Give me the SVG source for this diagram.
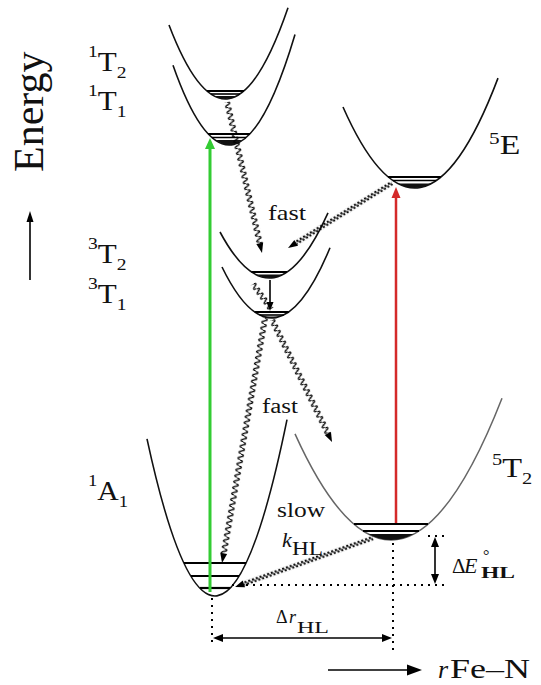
<svg xmlns="http://www.w3.org/2000/svg" width="541" height="685" viewBox="0 0 541 685">
<style>
 .curve{fill:none;stroke:#111;stroke-width:1.6}
 .curve5{fill:none;stroke:#666;stroke-width:1.5}
 .lvl{stroke:#000;stroke-width:1.6}
 .lvlb{stroke:#000;stroke-width:2.2}
 .lens{fill:#111}
 text{font-family:"Liberation Serif","Times New Roman",serif;fill:#111}
 .st{font-size:27px}
 .ss{font-size:17px}
 .it{font-style:italic}
 .dot{fill:none;stroke:#000;stroke-width:2;stroke-dasharray:2 5}
 .ah{fill:#000}
 .ln{stroke:#000;stroke-width:1.6;fill:none}
</style>
<defs>
 <pattern id="wave" x="0" y="-4" width="6" height="8" patternUnits="userSpaceOnUse">
  <path d="M0,4 Q1.5,-1 3,4 T6,4" fill="none" stroke="#000" stroke-width="1.3"/>
 </pattern>
 <pattern id="wavef" x="0" y="-3" width="4" height="6" patternUnits="userSpaceOnUse">
  <path d="M0,3 Q1,-0.6 2,3 T4,3" fill="none" stroke="#000" stroke-width="1.2"/>
 </pattern>
</defs>
<rect width="541" height="685" fill="#fff"/>

<g id="axis-energy">
 <text transform="translate(43,172) rotate(-90)" font-size="42">Energy</text>
 <line class="ln" x1="30" y1="280" x2="30" y2="220" stroke-width="1.5"/>
 <path class="ah" d="M30,211 L26.5,222 L33.5,222Z"/>
</g>

<g id="n-1T2">
 <path class="curve" d="M169,25 Q228.5,181.1 288,7.8"/>
 <line class="lvlb" x1="207" y1="91" x2="244" y2="91"/>
 <line class="lvl" x1="211" y1="94" x2="240" y2="94"/>
 <path class="lens" d="M214,96 Q225.4,102 236.8,96Z"/>
 <text class="st" transform="translate(88,71) scale(1.15,1)"><tspan class="ss" y="-14">1</tspan><tspan y="0">T</tspan><tspan class="ss" y="7">2</tspan></text>
</g>

<g id="n-1T1">
 <path class="curve" d="M173,65.3 Q234,238.9 295,34.4"/>
 <line class="lvlb" x1="208" y1="134" x2="250" y2="134"/>
 <line class="lvl" x1="212" y1="137.5" x2="246" y2="137.5"/>
 <path class="lens" d="M216,140 Q229,150 242,140Z"/>
 <text class="st" transform="translate(88,110) scale(1.15,1)"><tspan class="ss" y="-14">1</tspan><tspan y="0">T</tspan><tspan class="ss" y="7">1</tspan></text>
</g>

<g id="n-5E">
 <path class="curve" d="M343,107 Q420.5,282.3 498,78.1"/>
 <line class="lvlb" x1="388" y1="177" x2="441" y2="177"/>
 <line class="lvl" x1="393" y1="180.5" x2="436" y2="180.5"/>
 <path class="lens" d="M397.7,183.5 Q414.6,192.5 431.5,183.5Z"/>
 <text class="st" transform="translate(489,154) scale(1.25,1)"><tspan class="ss" y="-10">5</tspan><tspan y="0">E</tspan></text>
</g>

<g id="n-3T2">
 <path class="curve" d="M220,232 Q274,332.8 328,212.8"/>
 <line class="lvlb" x1="251.5" y1="272" x2="287" y2="272"/>
 <path class="lens" d="M255.7,274.5 Q269.3,281.5 282.9,274.5Z"/>
 <text class="st" transform="translate(88,263) scale(1.15,1)"><tspan class="ss" y="-14">3</tspan><tspan y="0">T</tspan><tspan class="ss" y="7">2</tspan></text>
</g>

<g id="n-3T1">
 <path class="curve" d="M222,267 Q276,377.8 330,247.8"/>
 <line class="lvlb" x1="254.7" y1="312" x2="288.7" y2="312"/>
 <line class="lvl" x1="259.6" y1="315" x2="283.8" y2="315"/>
 <path class="lens" d="M263.2,316.5 Q271.7,319.5 280.2,316.5Z"/>
 <text class="st" transform="translate(88,303) scale(1.15,1)"><tspan class="ss" y="-14">3</tspan><tspan y="0">T</tspan><tspan class="ss" y="7">1</tspan></text>
</g>

<g id="n-1A1">
 <path class="curve" d="M147,438.8 Q217,762.5 287,419.7"/>
 <line class="lvlb" x1="184" y1="563" x2="246" y2="563"/>
 <line class="lvlb" x1="191" y1="576" x2="239" y2="576"/>
 <line class="lvlb" x1="200" y1="588" x2="230" y2="588"/>
 <text class="st" transform="translate(88,500) scale(1.1,1)"><tspan class="ss" y="-14">1</tspan><tspan y="0">A</tspan><tspan class="ss" y="7">1</tspan></text>
</g>

<g id="n-5T2">
 <path class="curve5" d="M295,433.9 Q398.5,662.7 502,398.2"/>
 <line class="lvlb" x1="354" y1="524" x2="428" y2="524" stroke-width="2.5"/>
 <line class="lvlb" x1="363" y1="531" x2="419" y2="531"/>
 <path class="lens" d="M368.2,534 Q391,546 413.8,534Z" fill="#333"/>
 <text class="st" transform="translate(492,477) scale(1.2,1)"><tspan class="ss" y="-12">5</tspan><tspan y="0">T</tspan><tspan class="ss" y="7">2</tspan></text>
</g>

<g id="connectors">
 <line x1="210" y1="592" x2="210" y2="147" stroke="#33cc33" stroke-width="3"/>
 <path d="M210,138 L205,149 L215,149Z" fill="#33cc33"/>
 <line x1="396" y1="523" x2="396" y2="196" stroke="#d42a2a" stroke-width="2.5"/>
 <path d="M396,187 L391.5,198 L400.5,198Z" fill="#d42a2a"/>

 <g transform="translate(227,102) rotate(76.95)">
  <rect x="0" y="-4" width="146" height="8" fill="url(#wave)"/>
  <path class="ah" d="M155,0 L145,-3.5 L145,3.5Z"/>
 </g>
 <g transform="translate(392,183) rotate(147.99)">
  <rect x="0" y="-3" width="113" height="6" fill="url(#wavef)"/>
  <path class="ah" d="M122.6,0 L113,-3.5 L113,3.5Z"/>
 </g>
 <g transform="translate(253,284) rotate(54.25)">
  <rect x="0" y="-4" width="31" height="8" fill="url(#wave)"/>
 </g>
 <line class="ln" x1="270" y1="280" x2="270" y2="303"/>
 <path class="ah" d="M270,311 L266.5,302 L273.5,302Z"/>
 <g transform="translate(265,318) rotate(99.95)">
  <rect x="0" y="-4" width="239" height="8" fill="url(#wave)"/>
  <path class="ah" d="M248.7,0 L239,-3.5 L239,3.5Z"/>
 </g>
 <g transform="translate(272,320) rotate(63.81)">
  <rect x="0" y="-4" width="127" height="8" fill="url(#wave)"/>
  <path class="ah" d="M136,0 L126.5,-3.5 L126.5,3.5Z"/>
 </g>
 <g transform="translate(373,538) rotate(160.45)">
  <rect x="0" y="-3" width="137" height="6" fill="url(#wavef)"/>
  <path class="ah" d="M146.4,0 L137,-3.5 L137,3.5Z"/>
 </g>

 <text x="268" y="220" font-size="21" textLength="38" lengthAdjust="spacingAndGlyphs">fast</text>
 <text x="262" y="413" font-size="20" textLength="36" lengthAdjust="spacingAndGlyphs">fast</text>
 <text x="277" y="517" font-size="20" textLength="48" lengthAdjust="spacingAndGlyphs">slow</text>
 <text class="it" x="282" y="547" font-size="22">k</text>
 <text x="292" y="555" font-size="18" textLength="31" lengthAdjust="spacingAndGlyphs">HL</text>
</g>

<g id="dimensions">
 <line class="dot" x1="232" y1="585" x2="445" y2="585"/>
 <line class="dot" x1="428" y1="536" x2="445" y2="536"/>
 <line class="dot" x1="212" y1="598" x2="212" y2="642"/>
 <line class="dot" x1="393" y1="543" x2="393" y2="655"/>
 <line class="ln" x1="435" y1="545" x2="435" y2="575" stroke-width="2"/>
 <path class="ah" d="M435,537 L431,547 L439,547Z M435,584 L431,574 L439,574Z"/>
 <text x="452" y="573" font-size="21">Δ</text>
 <text class="it" x="464" y="573" font-size="22">E</text>
 <text x="483" y="561" font-size="16">°</text>
 <text x="481" y="578" font-size="16" font-family="Liberation Sans, Arial, sans-serif" font-weight="bold" textLength="34" lengthAdjust="spacingAndGlyphs">HL</text>
 <line class="ln" x1="221" y1="638" x2="384" y2="638" stroke-width="2"/>
 <path class="ah" d="M213,638 L223,634 L223,642Z M392,638 L382,634 L382,642Z"/>
 <text x="276" y="623" font-size="18">Δ</text>
 <text class="it" x="289" y="623" font-size="18">r</text>
 <text x="297" y="633" font-size="17" textLength="32" lengthAdjust="spacingAndGlyphs">HL</text>
</g>

<g id="axis-r">
 <line class="ln" x1="328" y1="670" x2="410" y2="670" stroke-width="3.5"/>
 <path class="ah" d="M422,670 L407,664.5 L407,675.5Z"/>
 <text class="it" x="438" y="678" font-size="26">r</text>
 <text x="450" y="678" font-size="27" textLength="80" lengthAdjust="spacingAndGlyphs">Fe–N</text>
</g>
</svg>
